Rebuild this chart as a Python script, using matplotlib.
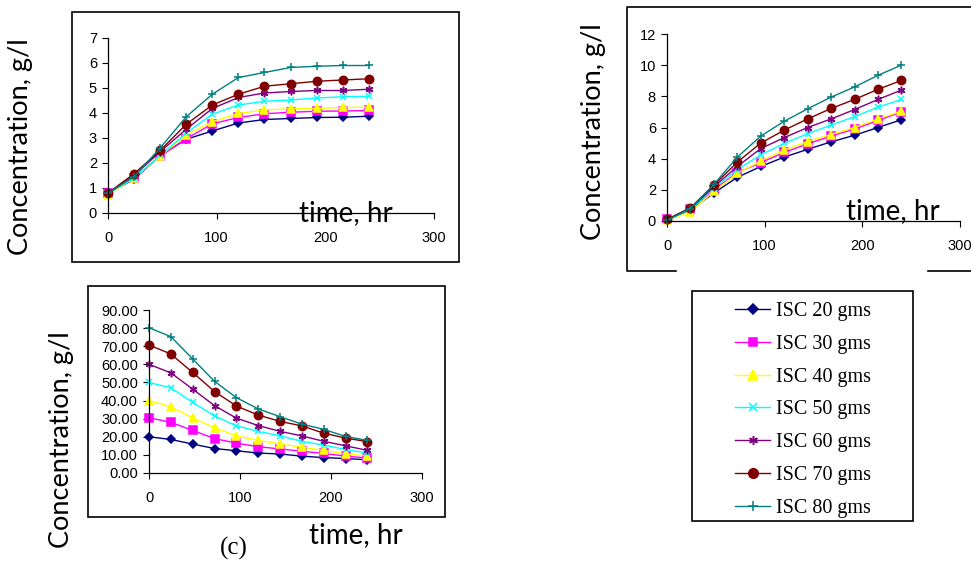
import matplotlib
matplotlib.use("Agg")
import matplotlib.pyplot as plt
from matplotlib.patches import Rectangle

# ---- data -------------------------------------------------------------
time_hr = [0, 24, 48, 72, 96, 120, 144, 168, 192, 216, 240]
series_labels = ["ISC 20 gms", "ISC 30 gms", "ISC 40 gms", "ISC 50 gms",
                 "ISC 60 gms", "ISC 70 gms", "ISC 80 gms"]

# panel (a)
conc_a_20 = [0.78, 1.35, 2.30, 2.95, 3.28, 3.60, 3.74, 3.78, 3.82, 3.83, 3.87]
conc_a_30 = [0.78, 1.40, 2.27, 2.97, 3.57, 3.82, 3.97, 4.03, 4.07, 4.08, 4.10]
conc_a_40 = [0.72, 1.40, 2.28, 3.12, 3.65, 3.98, 4.12, 4.17, 4.18, 4.22, 4.23]
conc_a_50 = [0.78, 1.40, 2.30, 3.20, 3.95, 4.32, 4.47, 4.52, 4.60, 4.65, 4.67]
conc_a_60 = [0.78, 1.50, 2.45, 3.35, 4.18, 4.62, 4.80, 4.86, 4.90, 4.90, 4.95]
conc_a_70 = [0.80, 1.57, 2.50, 3.55, 4.32, 4.75, 5.07, 5.17, 5.27, 5.32, 5.37]
conc_a_80 = [0.80, 1.45, 2.60, 3.85, 4.75, 5.42, 5.62, 5.82, 5.87, 5.90, 5.90]

# panel (b)
conc_b_20 = [0.05, 0.70, 1.80, 2.80, 3.50, 4.10, 4.60, 5.08, 5.50, 6.00, 6.50]
conc_b_30 = [0.10, 0.80, 2.00, 3.10, 3.75, 4.40, 4.95, 5.45, 5.90, 6.45, 7.00]
conc_b_40 = [0.05, 0.60, 1.90, 3.05, 3.85, 4.55, 5.10, 5.55, 6.00, 6.55, 7.05]
conc_b_50 = [0.05, 0.75, 2.10, 3.30, 4.25, 4.98, 5.60, 6.15, 6.70, 7.30, 7.80]
conc_b_60 = [0.08, 0.80, 2.20, 3.50, 4.65, 5.35, 6.00, 6.55, 7.15, 7.80, 8.40]
conc_b_70 = [0.10, 0.85, 2.30, 3.78, 5.00, 5.83, 6.55, 7.22, 7.80, 8.45, 9.02]
conc_b_80 = [0.05, 0.80, 2.35, 4.10, 5.45, 6.40, 7.20, 7.95, 8.60, 9.35, 10.00]

# panel (c)
conc_c_20 = [20.0, 18.5, 16.0, 13.5, 12.3, 11.0, 10.5, 9.3, 8.5, 8.0, 7.3]
conc_c_30 = [30.5, 28.0, 23.5, 19.0, 16.5, 14.5, 13.3, 12.0, 10.8, 9.3, 8.3]
conc_c_40 = [40.0, 36.5, 30.5, 25.0, 20.5, 18.0, 16.0, 14.3, 12.5, 10.5, 9.5]
conc_c_50 = [50.0, 47.0, 39.0, 31.5, 26.0, 23.0, 20.5, 17.5, 15.4, 13.0, 11.0]
conc_c_60 = [60.0, 55.3, 46.3, 37.2, 30.3, 26.2, 23.0, 20.5, 17.5, 15.0, 12.5]
conc_c_70 = [70.7, 65.7, 55.5, 45.0, 37.0, 32.0, 28.5, 26.0, 22.0, 19.3, 17.3]
conc_c_80 = [80.2, 75.3, 63.0, 50.6, 41.6, 35.4, 31.1, 27.0, 24.1, 20.2, 18.0]

x_ticks = [0, 100, 200, 300]
y_ticks_a = [0, 1, 2, 3, 4, 5, 6, 7]
y_ticks_b = [0, 2, 4, 6, 8, 10, 12]
y_ticks_c = [0, 10, 20, 30, 40, 50, 60, 70, 80, 90]

panel_a = [conc_a_20, conc_a_30, conc_a_40, conc_a_50, conc_a_60, conc_a_70, conc_a_80]
panel_b = [conc_b_20, conc_b_30, conc_b_40, conc_b_50, conc_b_60, conc_b_70, conc_b_80]
panel_c = [conc_c_20, conc_c_30, conc_c_40, conc_c_50, conc_c_60, conc_c_70, conc_c_80]

# ---- styles -----------------------------------------------------------
colors = ["#000080", "#FF00FF", "#FFFF00", "#00FFFF", "#800080", "#800000", "#008080"]
markers = ["D", "s", "^", "x", (6, 2, 0), "o", "+"]
msizes = [4.4, 5.2, 6.4, 4.8, 5.5, 6.0, 6.0]

W, H = 971, 562
fig = plt.figure(figsize=(W / 100, H / 100), dpi=100)

label_font = ["Lato", "DejaVu Sans"]
tick_font = "Liberation Sans"

# Background layer in pixel coordinates for frames and free text
bg = fig.add_axes([0, 0, 1, 1], zorder=-1)
bg.set_xlim(0, W)
bg.set_ylim(H, 0)
bg.axis("off")

frame_kw = dict(fill=False, edgecolor="black", linewidth=1.2)
bg.add_patch(Rectangle((72, 12), 387, 250, **frame_kw))
bg.add_patch(Rectangle((88, 286), 357, 231, **frame_kw))
# frame around panel (b): open to the right edge, broken at the bottom
bg.plot([980, 627, 627, 676], [7, 7, 271, 271], color="black", lw=1.2)
bg.plot([928, 980], [271, 271], color="black", lw=1.2)
bg.add_patch(Rectangle((692, 291), 221, 230, **frame_kw))


def px_axes(left, right, top, bottom):
    return fig.add_axes([left / W, 1 - bottom / H, (right - left) / W, (bottom - top) / H])


def style_axes(ax, yticks, ymax, fmt=None):
    ax.set_xlim(0, 300)
    ax.set_ylim(0, ymax)
    ax.set_xticks(x_ticks)
    ax.set_yticks(yticks)
    if fmt:
        ax.set_yticklabels([fmt.format(v) for v in yticks])
    ax.set_facecolor("none")
    for s in ("top", "right"):
        ax.spines[s].set_visible(False)
    for s in ("left", "bottom"):
        ax.spines[s].set_linewidth(0.9)
    ax.tick_params(axis="both", direction="out", length=4, width=0.8,
                   labelsize=10.5, colors="black")
    ax.tick_params(axis="x", pad=9)
    ax.tick_params(axis="y", pad=4)
    for lab in ax.get_xticklabels() + ax.get_yticklabels():
        lab.set_fontfamily(tick_font)


def draw_series(ax, panel):
    handles = []
    for vals, c, m, ms, lab in zip(panel, colors, markers, msizes, series_labels):
        h, = ax.plot(time_hr, vals, color=c, lw=1.0, marker=m, markersize=ms,
                     markerfacecolor=c, markeredgecolor=c, markeredgewidth=1.1,
                     clip_on=False, label=lab)
        handles.append(h)
    return handles


ax_a = px_axes(108, 434, 38, 213)
handles = draw_series(ax_a, panel_a)
style_axes(ax_a, y_ticks_a, 7)

ax_b = px_axes(667, 960, 34, 221)
draw_series(ax_b, panel_b)
style_axes(ax_b, y_ticks_b, 12)

ax_c = px_axes(149, 422, 310, 473)
draw_series(ax_c, panel_c)
style_axes(ax_c, y_ticks_c, 90, fmt="{:.2f}")

# Axis titles
ylab_kw = dict(rotation=90, ha="center", va="center", fontsize=19.5, family=label_font)
bg.text(21, 147, "Concentration, g/l", **ylab_kw)
bg.text(594, 132, "Concentration, g/l", **ylab_kw)
bg.text(62, 440, "Concentration, g/l", **ylab_kw)

xlab_kw = dict(ha="center", va="center", fontsize=20, family=label_font)
bg.text(346, 213, "time, hr", zorder=5, **xlab_kw)
bg.text(893, 211, "time, hr", zorder=5, **xlab_kw)
bg.text(356, 535, "time, hr", **xlab_kw)
bg.text(234, 548, "(c)", ha="center", va="center", fontsize=18, family="Liberation Serif")

# Legend
leg = fig.legend(handles=handles, loc="upper left",
                 bbox_to_anchor=(735 / W, 1 - 302 / H), frameon=False,
                 prop={"family": "Liberation Serif", "size": 14.5},
                 borderpad=0, borderaxespad=0, handlelength=1.75,
                 handletextpad=0.3, labelspacing=0.68, markerscale=1.15)

fig.savefig("out.png", dpi=100)
